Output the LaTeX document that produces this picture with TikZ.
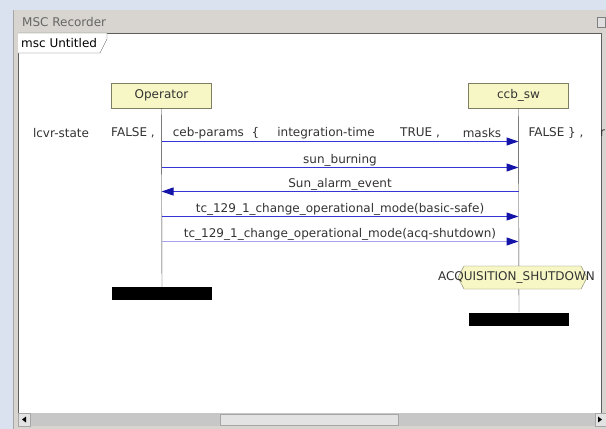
\documentclass[tikz,border=0pt]{standalone}
\usepackage{fontspec}
\setmainfont{DejaVu Sans}
\usetikzlibrary{arrows.meta}
\definecolor{deskblue}{HTML}{D9E2EE}
\definecolor{wingray}{HTML}{D8D5D0}
\definecolor{framegray}{HTML}{5E5E5E}
\definecolor{boxfill}{HTML}{F7F7C6}
\definecolor{boxline}{HTML}{7E7E62}
\definecolor{msgblue}{HTML}{3535D8}
\definecolor{msglight}{HTML}{A3A3EE}
\definecolor{headblue}{HTML}{1414A8}
\definecolor{textgray}{HTML}{333333}
\begin{document}
\begin{tikzpicture}[x=1pt,y=-1pt,
  font=\fontsize{12}{14}\selectfont,
  inst/.style={draw=boxline,fill=boxfill,minimum width=100pt,minimum height=25pt,inner sep=0pt,text=textgray},
  endbar/.style={fill=black,minimum width=100pt,minimum height=13pt,inner sep=0pt},
  msg/.style={draw=msgblue,line width=1pt,-{Triangle[length=12pt,width=8pt,color=headblue]}},
  lbl/.style={text=textgray,inner sep=1pt}]
\useasboundingbox (0,0) rectangle (606,429);
\fill[deskblue] (0,0) rectangle (606,429);
% window and title bar
\fill[wingray] (13,10) rectangle (606,429);
\draw[gray!70] (13,10) -- (13,429);
\node[anchor=west,text=black!60,inner sep=0pt] (title) at (22,22) {MSC Recorder};
\draw[gray,fill=gray!25] (597,17) rectangle (605,27);
% diagram frame
\draw[framegray,fill=white] (18,33) rectangle (601,413);
\draw[framegray,fill=white] (18,33) -- (107,33) -- (107,39) -- (100,53) -- (18,53);
\node[anchor=west,inner sep=0pt] (tab) at (21,43) {msc Untitled};
% scrollbar
\fill[black!22] (18,413) rectangle (601,426);
\draw[black!35,fill=black!11] (220,414) rectangle (398,425);
\draw[black!35,fill=black!11] (18,413) rectangle (30,426);
\draw[black!35,fill=black!11] (595,413) rectangle (606,426);
\fill (22,419.5) -- (26,416.5) -- (26,422.5) -- cycle;
\fill (602,419.5) -- (598,416.5) -- (598,422.5) -- cycle;
% instances
\node[inst] (op) at (161.5,95.5) {Operator};
\node[inst] (ccb) at (518.5,95.5) {ccb\_sw};
\node[endbar] (opend) at (162,293.5) {};
\node[endbar] (ccbend) at (519,319) {};
\draw[black!80] (op) -- (opend);
\draw[black!80] (ccb) -- (ccbend);
\foreach \y [count=\i] in {141,167,191,216,241}{
  \coordinate (o\i) at (161.5,\y.5);
  \coordinate (c\i) at (518.5,\y.5);
}
% messages
\draw[msg] (o1) -- (c1);
\draw[msg] (o2) -- node[above,lbl]{sun\_burning} (c2);
\draw[msg] (c3) -- node[above,lbl]{Sun\_alarm\_event} (o3);
\draw[msg] (o4) -- node[above,lbl]{tc\_129\_1\_change\_operational\_mode(basic-safe)} (c4);
\draw[msg,draw=msglight] (o5) -- node[above,lbl]{tc\_129\_1\_change\_operational\_mode(acq-shutdown)} (c5);
% parameters of the first message
\node[lbl] (p1) at (61,133) {lcvr-state};
\node[lbl] (p2) at (133,133) {FALSE ,};
\node[lbl] (p3) at (216,133) {ceb-params\ \ \{};
\node[lbl] (p4) at (326,133) {integration-time};
\node[lbl] (p5) at (420,133) {TRUE ,};
\node[lbl] (p6) at (482,133) {masks};
\node[lbl] (p7) at (556,133) {FALSE \} ,};
\node[lbl,anchor=west,inner sep=0pt] (p8) at (600,133) {r};
% condition
\draw[boxline,fill=boxfill] (458,277.5) -- (464,266) -- (581,266) -- (587,277.5) -- (581,289) -- (464,289) -- cycle;
\node[lbl] (acq) at (516.5,277.5) {ACQUISITION\_SHUTDOWN};
\end{tikzpicture}
\end{document}
